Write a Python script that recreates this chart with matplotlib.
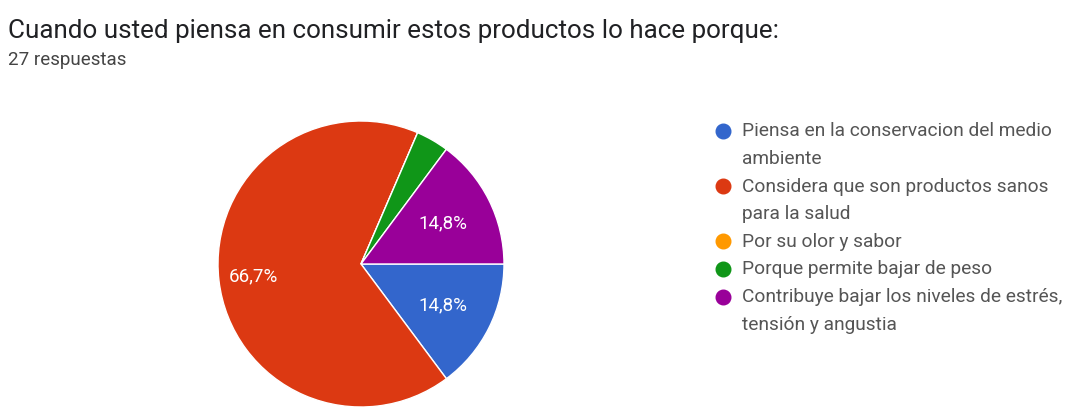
import matplotlib.pyplot as plt
import numpy as np

# datos de la encuesta (27 respuestas)
categorias = [
    'Piensa en la conservacion del medio\nambiente',
    'Considera que son productos sanos\npara la salud',
    'Por su olor y sabor',
    'Porque permite bajar de peso',
    'Contribuye bajar los niveles de estrés,\ntensión y angustia',
]
respuestas = [4, 18, 0, 1, 4]
colores = ['#3366cc', '#dc3912', '#ff9900', '#109618', '#990099']
titulo = 'Cuando usted piensa en consumir estos productos lo hace porque:'
subtitulo = '27 respuestas'

W, H = 1071, 408
fig = plt.figure(figsize=(W / 100, H / 100), dpi=100)
fig.patch.set_facecolor('white')

fig.text(8 / W, 1 - 31 / H, titulo, fontsize=18.7, family='Roboto',
         color='#202124', va='center', ha='left')
fig.text(8 / W, 1 - 60 / H, subtitulo, fontsize=13.5, family='Roboto',
         color='#444444', va='center', ha='left')

# pie
cx, cy, r = 361, 264, 143
ax = fig.add_axes([(cx - r) / W, (H - cy - r) / H, 2 * r / W, 2 * r / H])
wedges, texts = ax.pie(
    respuestas, colors=colores, startangle=0, counterclock=False,
    wedgeprops=dict(edgecolor='white', linewidth=1))
ax.set_xlim(-1, 1)
ax.set_ylim(-1, 1)
ax.set_aspect('equal')
ax.axis('off')

# etiquetas de porcentaje
total = sum(respuestas)
for w, v in zip(wedges, respuestas):
    pct = 100 * v / total
    if pct < 5:
        continue
    ang = np.deg2rad((w.theta1 + w.theta2) / 2)
    d = 0.76 if pct > 50 else 0.64
    ax.text(d * np.cos(ang), d * np.sin(ang), ('%.1f%%' % pct).replace('.', ','),
            color='white', fontsize=13.5, family='Roboto', ha='center', va='center')

# leyenda (dibujada a mano, una linea cada 27.6 px)
lg = fig.add_axes([0, 0, 1, 1])
lg.set_xlim(0, W)
lg.set_ylim(H, 0)
lg.axis('off')
y = 131
for c, lab in zip(colores, categorias):
    lg.plot(723, y, 'o', color=c, markersize=10.5)
    for linea in lab.split('\n'):
        lg.text(742, y + 5.5, linea, fontsize=13.8, family='Roboto', color='#555555',
                va='baseline', ha='left')
        y += 27.6

fig.savefig('out.png', dpi=100, facecolor='white')
